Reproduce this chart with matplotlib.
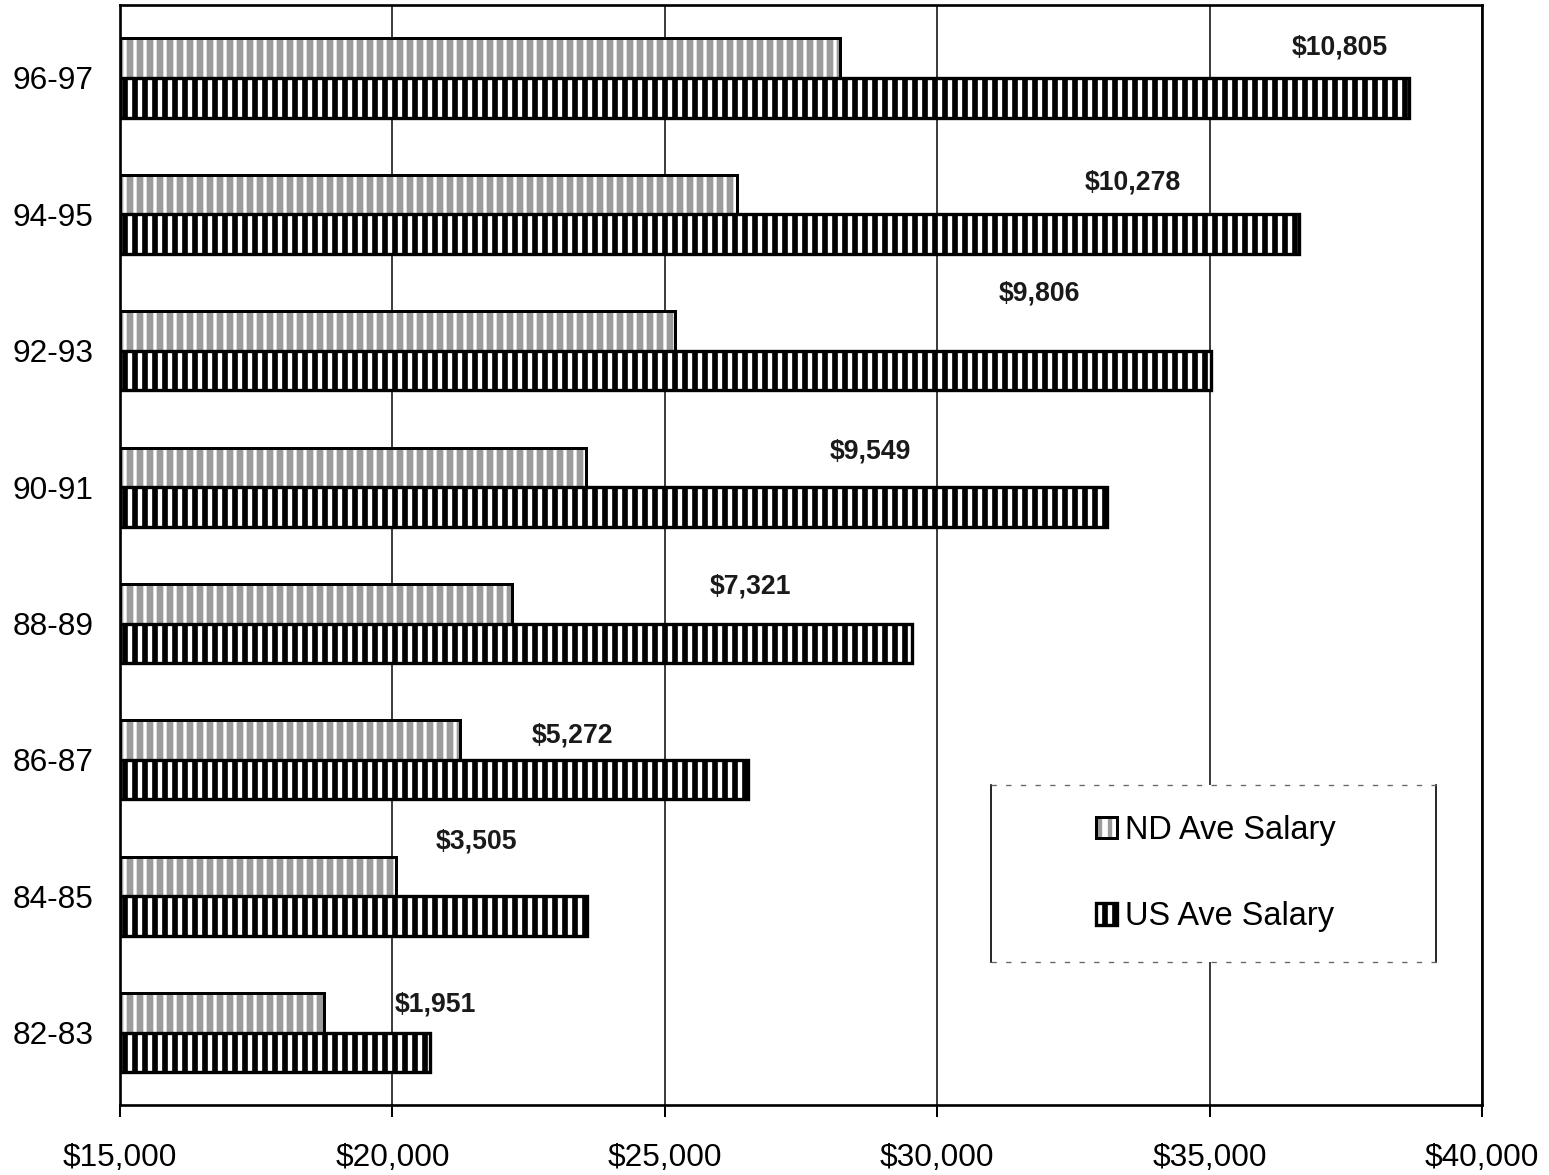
import matplotlib
matplotlib.use("Agg")
import matplotlib.pyplot as plt
from matplotlib.patches import Patch, Rectangle
from matplotlib.legend_handler import HandlerTuple
from matplotlib.lines import Line2D
import numpy as np

plt.rcParams['font.family'] = ['Liberation Sans', 'DejaVu Sans']
plt.rcParams['hatch.linewidth'] = 3.4

categories = ["82-83", "84-85", "86-87", "88-89", "90-91", "92-93", "94-95", "96-97"]
nd_salary = [18745, 20066, 21241, 22195, 23553, 25187, 26325, 28216]
us_salary = [20690, 23572, 26527, 29537, 33117, 35025, 36641, 38660]
diff_labels = ["$1,951", "$3,505", "$5,272", "$7,321", "$9,549", "$9,806", "$10,278", "$10,805"]
label_x = [20782, 21553, 23297, 26564, 28766, 31868, 33594, 37394]
label_y = [0.21, 1.40, 2.18, 3.27, 4.26, 5.42, 6.23, 7.22]
xticks = [15000, 20000, 25000, 30000, 35000, 40000]
xtick_labels = ["$15,000", "$20,000", "$25,000", "$30,000", "$35,000", "$40,000"]
series_names = ["ND Ave Salary", "US Ave Salary"]

ND_GREY = '#9c9c9c'

fig = plt.figure(figsize=(1549/120, 1175/120), dpi=120)
ax = fig.add_axes([120/1549, 1-1105/1175, (1482-120)/1549, 1100/1175])

y = np.arange(len(categories))
h = 0.29
off = 0.145

# ND bars: grey stipple with white vertical stripes + black outline
nd_fill = ax.barh(y + off, [v - 15000 for v in nd_salary], left=15000, height=h,
                  color=ND_GREY, edgecolor='white', hatch='||', linewidth=0, zorder=3)
for b in nd_fill:
    if hasattr(b, 'set_hatch_linewidth'):
        b.set_hatch_linewidth(2.0)
nd_edge = ax.barh(y + off, [v - 15000 for v in nd_salary], left=15000, height=h,
                  facecolor='none', edgecolor='black', linewidth=1.8, zorder=4)
# US bars: heavy black vertical stripes
us_bars = ax.barh(y - off, [v - 15000 for v in us_salary], left=15000, height=h,
                  facecolor='white', edgecolor='black', hatch='||', linewidth=2.0, zorder=3)

for t, xx, yy in zip(diff_labels, label_x, label_y):
    ax.text(xx, yy, t, ha='center', va='center', fontsize=16, fontweight='bold',
            color='#1a1a1a', zorder=5)

ax.set_xlim(15000, 40000)
ax.set_ylim(-0.53, 7.535)
ax.set_xticks(xticks)
ax.set_xticklabels(xtick_labels, fontsize=19)
ax.set_yticks(y)
ax.set_yticklabels(categories, fontsize=19)
ax.tick_params(axis='x', direction='out', length=7, width=1.2, pad=16)
ax.tick_params(axis='y', length=0, pad=16)
ax.xaxis.grid(True, color='black', linewidth=0.9, zorder=1)
ax.set_axisbelow(True)
for s in ax.spines.values():
    s.set_linewidth(1.6)

# legend box
x0, x1, y0, y1 = 0.6395, 0.9662, 0.13, 0.2909
ax.add_patch(Rectangle((x0, y0), x1 - x0, y1 - y0, transform=ax.transAxes,
                       facecolor='white', edgecolor='none', zorder=5))
ax.add_line(Line2D([x0, x0], [y0, y1], transform=ax.transAxes, color='black', lw=1.0, zorder=6))
ax.add_line(Line2D([x1, x1], [y0, y1], transform=ax.transAxes, color='black', lw=1.0, zorder=6))
ax.add_line(Line2D([x0, x1], [y1, y1], transform=ax.transAxes, color='#666666', lw=0.8, ls=(0, (4, 7)), zorder=6))
ax.add_line(Line2D([x0, x1], [y0, y0], transform=ax.transAxes, color='#666666', lw=0.8, ls=(0, (4, 7)), zorder=6))

h_nd = (Patch(facecolor=ND_GREY, edgecolor='white', hatch='||', linewidth=0),
        Patch(facecolor='none', edgecolor='black', linewidth=1.8))
h_us = Patch(facecolor='white', edgecolor='black', hatch='||', linewidth=2.0)
leg = ax.legend([h_nd, h_us], series_names, loc='center', bbox_to_anchor=(0.8047, 0.2105),
                frameon=False, fontsize=19.5, labelspacing=1.7, handlelength=0.65,
                handleheight=0.65, handletextpad=0.25,
                handler_map={tuple: HandlerTuple(ndivide=1, pad=0)})
leg.set_zorder(7)

fig.savefig("out.png", dpi=120)
